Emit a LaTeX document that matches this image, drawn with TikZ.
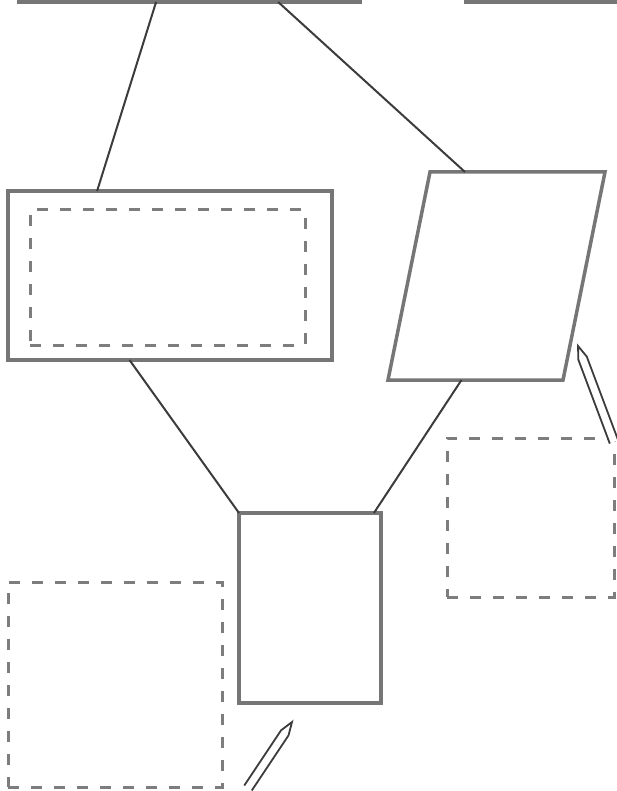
\documentclass[tikz,border=0pt]{standalone}
\usetikzlibrary{calc}
\definecolor{conncol}{RGB}{60,60,60}
\definecolor{boxcol}{RGB}{118,118,118}
\definecolor{dashcol}{RGB}{125,125,125}
\tikzset{
  conn/.style={draw=conncol, line width=2pt},
  solidbox/.style={draw=boxcol, line width=3.5pt, rectangle, inner sep=0pt, outer sep=0pt},
  dashbox/.style={draw=dashcol, line width=3pt, rectangle, inner sep=0pt, outer sep=0pt, dash pattern=on 11pt off 12pt},
  hollowarrow/.style={draw=conncol, line width=1.8pt, line join=miter, fill=white}
}
\begin{document}
\begin{tikzpicture}[x=1pt,y=-1pt]
\useasboundingbox (0,0) rectangle (617,791);
\clip (0,0) rectangle (617,791);
% top boxes (cut off)
\node[solidbox, minimum width=341pt, minimum height=62pt] (TL) at (189.5,-29) {};
\node[solidbox, minimum width=234pt, minimum height=62pt] (TR) at (583,-29) {};
% left double box
\node[solidbox, minimum width=324pt, minimum height=169pt] (LR) at (170,275.5) {};
\node[dashbox, minimum width=275pt, minimum height=135pt] (LRin) at (167.5,277.5) {};
% parallelogram
\coordinate (P1) at (430,172);
\coordinate (P2) at (605,172);
\coordinate (P3) at (563,380);
\coordinate (P4) at (388,380);
\draw[draw=boxcol, line width=3.5pt, line join=miter] (P1) -- (P2) -- (P3) -- (P4) -- cycle;
% bottom solid box
\node[solidbox, minimum width=142pt, minimum height=190pt] (BR) at (310,608) {};
% dashed boxes
\node[dashbox, minimum width=214pt, minimum height=205pt] (BL) at (115,684.5) {};
\node[dashbox, minimum width=167pt, minimum height=159pt] (RD) at (530.5,517.5) {};
% connectors
\draw[conn] ($(TL.south west)!0.402!(TL.south east)$) -- ($(LR.north west)!0.275!(LR.north east)$);
\draw[conn] ($(TL.south west)!0.76!(TL.south east)$) -- ($(P1)!0.2!(P2)$);
\draw[conn] ($(LR.south west)!0.375!(LR.south east)$) -- (BR.north west);
\draw[conn] ($(P4)!0.42!(P3)$) -- ($(BR.north west)!0.95!(BR.north east)$);
% hollow arrows
\coordinate (A1b) at (248,788);
\coordinate (A1t) at (292,722);
\coordinate (A1n) at ($(A1t)!13pt!(A1b)$);
\draw[hollowarrow] ($(A1b)!4.5pt!90:(A1t)$) -- ($(A1n)!4.5pt!90:(A1t)$) -- (A1t)
  -- ($(A1n)!4.5pt!-90:(A1t)$) -- ($(A1b)!4.5pt!-90:(A1t)$);
\coordinate (A2b) at (614,442);
\coordinate (A2t) at (578,346);
\coordinate (A2n) at ($(A2t)!13pt!(A2b)$);
\draw[hollowarrow] ($(A2b)!4.5pt!90:(A2t)$) -- ($(A2n)!4.5pt!90:(A2t)$) -- (A2t)
  -- ($(A2n)!4.5pt!-90:(A2t)$) -- ($(A2b)!4.5pt!-90:(A2t)$);
\end{tikzpicture}
\end{document}
